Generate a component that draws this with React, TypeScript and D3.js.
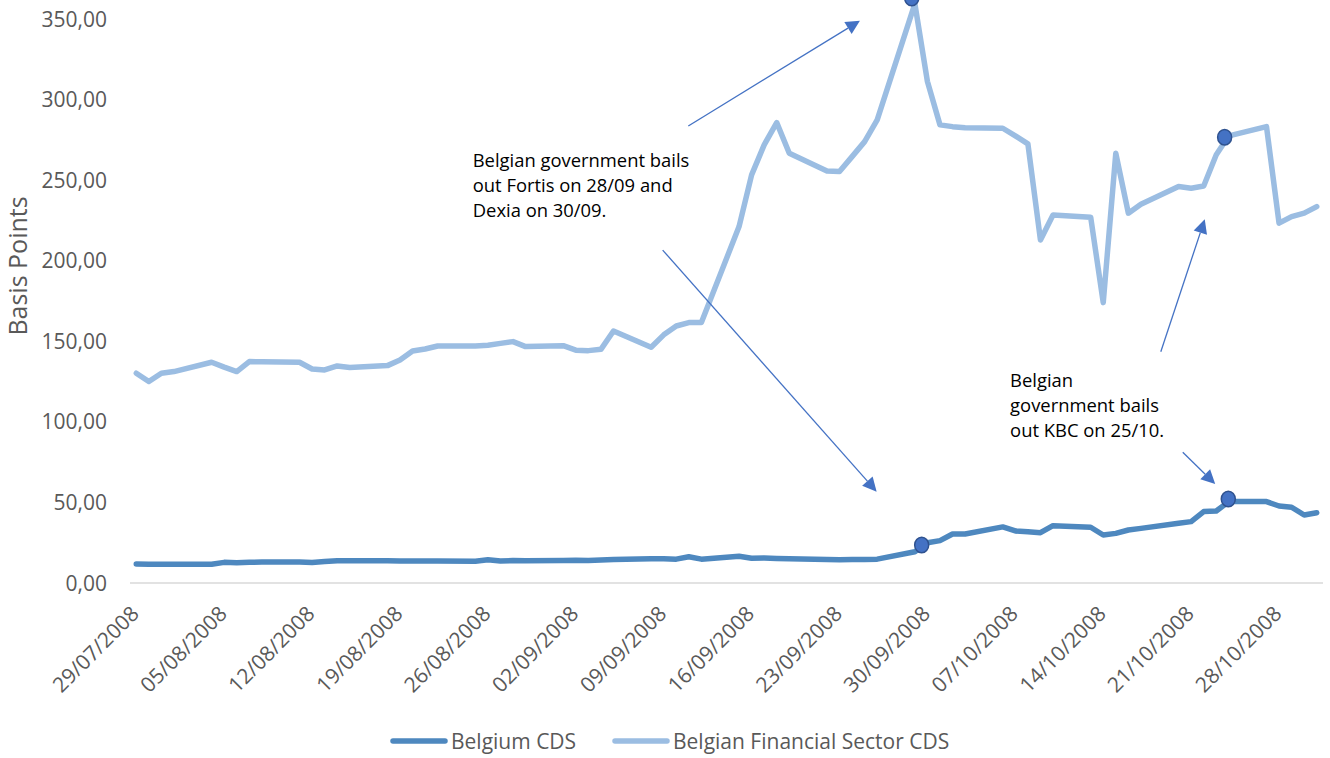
import React from "react";
import * as d3 from "d3";

// ---------- data ----------
const dates = [
  "2008-07-29","2008-07-30","2008-07-31","2008-08-01",
  "2008-08-04","2008-08-05","2008-08-06","2008-08-07","2008-08-08",
  "2008-08-11","2008-08-12","2008-08-13","2008-08-14","2008-08-15",
  "2008-08-18","2008-08-19","2008-08-20","2008-08-21","2008-08-22",
  "2008-08-25","2008-08-26","2008-08-27","2008-08-28","2008-08-29",
  "2008-09-01","2008-09-02","2008-09-03","2008-09-04","2008-09-05",
  "2008-09-08","2008-09-09","2008-09-10","2008-09-11","2008-09-12",
  "2008-09-15","2008-09-16","2008-09-17","2008-09-18","2008-09-19",
  "2008-09-22","2008-09-23","2008-09-24","2008-09-25","2008-09-26",
  "2008-09-29","2008-09-30","2008-10-01","2008-10-02","2008-10-03",
  "2008-10-06","2008-10-07","2008-10-08","2008-10-09","2008-10-10",
  "2008-10-13","2008-10-14","2008-10-15","2008-10-16","2008-10-17",
  "2008-10-20","2008-10-21","2008-10-22","2008-10-23","2008-10-24",
  "2008-10-27","2008-10-28","2008-10-29","2008-10-30","2008-10-31",
];

const belgiumCDS = [
  11.8, 11.7, 11.6, 11.6,
  11.6, 12.8, 12.6, 12.9, 13.0,
  13.0, 12.7, 13.3, 13.8, 13.8,
  13.8, 13.7, 13.6, 13.6, 13.6,
  13.5, 14.4, 13.7, 13.9, 13.8,
  14.0, 14.1, 14.0, 14.3, 14.6,
  15.0, 15.1, 14.8, 16.3, 14.8,
  16.6, 15.4, 15.5, 15.2, 15.0,
  14.6, 14.5, 14.6, 14.6, 14.8,
  19.4, 25.0, 26.3, 30.4, 30.4,
  34.8, 32.3, 31.8, 31.2, 35.6,
  34.6, 29.8, 30.8, 32.9, 33.9,
  37.1, 38.1, 44.3, 44.7, 50.5,
  50.5, 47.8, 47.0, 42.2, 43.6,
];

const financialCDS = [
  130.2, 125.0, 130.2, 131.2,
  137.0, 134.0, 131.2, 137.4, 137.3,
  137.0, 132.8, 132.2, 134.7, 133.7,
  134.9, 138.4, 144.0, 145.2, 147.1,
  147.1, 147.6, 148.7, 149.8, 146.7,
  147.3, 144.5, 144.2, 145.0, 156.4,
  146.3, 154.0, 159.5, 161.6, 161.6,
  221.2, 253.3, 271.9, 285.7, 266.7,
  255.7, 255.3, 264.6, 273.9, 287.4,
  359.5, 311.2, 284.3, 283.2, 282.5,
  282.2, 277.5, 272.5, 212.9, 228.4,
  227.0, 174.0, 266.7, 229.5, 235.0,
  246.0, 245.0, 246.4, 265.7, 277.5,
  283.2, 223.3, 227.4, 229.5, 233.6,
];

const seriesNames = ["Belgium CDS", "Belgian Financial Sector CDS"];

const tickDates = [
  "2008-07-29","2008-08-05","2008-08-12","2008-08-19","2008-08-26",
  "2008-09-02","2008-09-09","2008-09-16","2008-09-23","2008-09-30",
  "2008-10-07","2008-10-14","2008-10-21","2008-10-28",
];
const yTicks = [0, 50, 100, 150, 200, 250, 300, 350];
const yTitle = "Basis Points";

// highlighted events (date-time, value)
const highlightTimes = ["2008-09-28T18:00","2008-10-23T16:00","2008-09-29T13:00","2008-10-23T23:00"];
const highlightValues = [363, 276.6, 23.6, 52.1];

// annotation arrows in data space
const arrowFromTimes = ["2008-09-10T23:00","2008-09-08T22:00","2008-10-18T14:00","2008-10-20T08:00"];
const arrowFromValues = [283.6, 206.6, 143.5, 81.1];
const arrowToTimes = ["2008-09-24T15:00","2008-09-25T23:00","2008-10-22T02:00","2008-10-22T22:00"];
const arrowToValues = [348.9, 56.7, 225.7, 61.4];

// annotation texts (anchored at first-line baseline in data space)
const noteTimes = ["2008-08-24T19:00","2008-10-06T14:00"];
const noteValues = [258.2, 121.9];
const noteLines = [
  ["Belgian government bails", "out Fortis on 28/09 and", "Dexia on 30/09."],
  ["Belgian", "government bails", "out KBC on 25/10."],
];

// ---------- layout / style ----------
const W = 1330, H = 758;
const PLOT = { left: 130, right: 1323, top: 19, bottom: 583 };
const FONT = "'Open Sans', sans-serif";
const DARK = "#4E88BF";
const LIGHT = "#9BBDE2";
const MARK_FILL = "#4472C4";
const MARK_STROKE = "#2F528F";
const ARROW = "#4472C4";
const AXIS_TEXT = "#595959";

const parseDay = d3.utcParse("%Y-%m-%d");
const parseTime = d3.utcParse("%Y-%m-%dT%H:%M");
const fmtTick = d3.utcFormat("%d/%m/%Y");
const fmtY = (v: number) => v.toFixed(2).replace(".", ",");

export default function App() {
  const days = dates.map((s) => parseDay(s) as Date);
  const x = d3
    .scaleUtc()
    .domain([d3.utcHour.offset(days[0], -12), d3.utcHour.offset(days[days.length - 1], 12)])
    .range([PLOT.left, PLOT.right]);
  const y = d3.scaleLinear().domain([0, 350]).range([PLOT.bottom, PLOT.top]);

  const line = d3
    .line<number>()
    .x((_, i) => x(days[i]))
    .y((v) => y(v));

  const arrows = arrowFromTimes.map((t, i) => {
    const x1 = x(parseTime(t) as Date), y1 = y(arrowFromValues[i]);
    const x2 = x(parseTime(arrowToTimes[i]) as Date), y2 = y(arrowToValues[i]);
    const dx = x2 - x1, dy = y2 - y1;
    const len = Math.hypot(dx, dy);
    const ux = dx / len, uy = dy / len;
    const hl = 14, hw = 7;
    const bx = x2 - ux * hl, by = y2 - uy * hl;
    const pts = [
      [x2, y2],
      [bx - uy * hw, by + ux * hw],
      [bx + uy * hw, by - ux * hw],
    ];
    return { x1, y1, bx, by, pts };
  });

  return (
    <svg
      width={W}
      height={H}
      style={{ position: "absolute", left: 0, top: 0, background: "#fff" }}
      fontFamily={FONT}
    >
      {/* baseline */}
      <line x1={PLOT.left} x2={PLOT.right} y1={y(0)} y2={y(0)} stroke="#D9D9D9" strokeWidth={1.5} />

      {/* y tick labels */}
      {yTicks.map((t) => (
        <text key={t} x={107} y={y(t)} dy="0.36em" textAnchor="end" fontSize={21} fill={AXIS_TEXT}>
          {fmtY(t)}
        </text>
      ))}

      {/* y title */}
      <text
        transform={`translate(27, 266) rotate(-90)`}
        textAnchor="middle"
        fontSize={25}
        fill={AXIS_TEXT}
      >
        {yTitle}
      </text>

      {/* x tick labels */}
      {tickDates.map((s) => {
        const tx = x(parseDay(s) as Date);
        return (
          <text
            key={s}
            transform={`translate(${tx + 4}, 615) rotate(-45)`}
            textAnchor="end"
            fontSize={21}
            fill={AXIS_TEXT}
          >
            {fmtTick(parseDay(s) as Date)}
          </text>
        );
      })}

      {/* series */}
      <path d={line(financialCDS) || ""} fill="none" stroke={LIGHT} strokeWidth={5.5} strokeLinejoin="round" strokeLinecap="round" />
      <path d={line(belgiumCDS) || ""} fill="none" stroke={DARK} strokeWidth={5.5} strokeLinejoin="round" strokeLinecap="round" />

      {/* arrows */}
      {arrows.map((a, i) => (
        <g key={i}>
          <line x1={a.x1} y1={a.y1} x2={a.bx} y2={a.by} stroke={ARROW} strokeWidth={1.3} />
          <polygon points={a.pts.map((p) => p.join(",")).join(" ")} fill={ARROW} />
        </g>
      ))}

      {/* highlight markers */}
      {highlightTimes.map((t, i) => (
        <ellipse
          key={i}
          cx={x(parseTime(t) as Date)}
          cy={y(highlightValues[i])}
          rx={7}
          ry={7.8}
          fill={MARK_FILL}
          stroke={MARK_STROKE}
          strokeWidth={1.5}
        />
      ))}

      {/* notes */}
      {noteTimes.map((t, i) => (
        <text key={i} x={x(parseTime(t) as Date)} y={y(noteValues[i])} fontSize={18.4} fill="#000">
          {noteLines[i].map((l, j) => (
            <tspan key={j} x={x(parseTime(t) as Date)} dy={j === 0 ? 0 : 25}>
              {l}
            </tspan>
          ))}
        </text>
      ))}

      {/* legend */}
      <line x1={393} x2={445} y1={741} y2={741} stroke={DARK} strokeWidth={5.5} strokeLinecap="round" />
      <text x={451} y={741} dy="0.36em" fontSize={21} fill={AXIS_TEXT}>{seriesNames[0]}</text>
      <line x1={615} x2={667} y1={741} y2={741} stroke={LIGHT} strokeWidth={5.5} strokeLinecap="round" />
      <text x={673} y={741} dy="0.36em" fontSize={21} fill={AXIS_TEXT}>{seriesNames[1]}</text>
    </svg>
  );
}
